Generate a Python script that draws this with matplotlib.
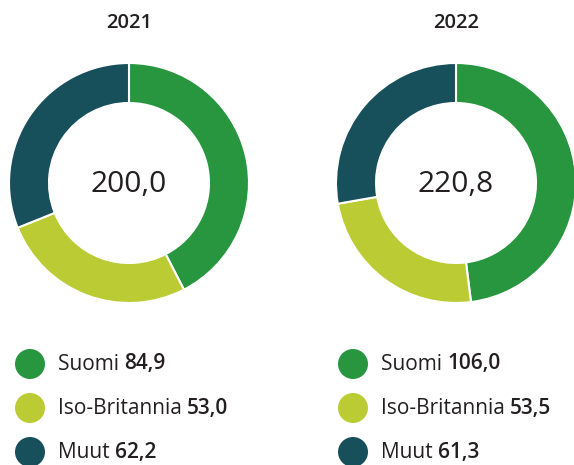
import matplotlib
matplotlib.use("Agg")
import matplotlib.pyplot as plt

plt.rcParams['font.family'] = ['Open Sans', 'DejaVu Sans']

years = ["2021", "2022"]
totals = ["200,0", "220,8"]
categories = ["Suomi", "Iso-Britannia", "Muut"]
values_2021 = [84.9, 53.0, 62.2]
values_2022 = [106.0, 53.5, 61.3]
series = [values_2021, values_2022]
colors = ["#27963F", "#BBCB33", "#174F5A"]
text_color = "#231F20"

W, H = 574, 465
fig = plt.figure(figsize=(W / 100, H / 100), dpi=100)
ax = fig.add_axes([0, 0, 1, 1])

centers_x = [129, 456]
center_y = H - 183
R = 120
ring = 40

for i, vals in enumerate(series):
    cx = centers_x[i]
    ax.pie(vals, colors=colors, startangle=90, counterclock=False,
           center=(cx, center_y), radius=R,
           wedgeprops=dict(width=ring, edgecolor="white", linewidth=1.5))
    ax.text(cx, H - 23, years[i], ha="center", va="center", fontsize=14.5,
            fontweight="semibold", color=text_color)
    ax.text(cx, center_y - 1, totals[i], ha="center", va="center", fontsize=21.5,
            color=text_color)

legend_x = [30, 353]
legend_y = [364, 408, 452]
fmt = lambda v: f"{v:.1f}".replace(".", ",")

for i, vals in enumerate(series):
    for j, cat in enumerate(categories):
        y = H - legend_y[j]
        circ = plt.Circle((legend_x[i], y), 15, color=colors[j], lw=0)
        ax.add_patch(circ)
        t = ax.text(legend_x[i] + 28, y, cat + " ", ha="left", va="center",
                    fontsize=15, color=text_color)
        ax.annotate(fmt(vals[j]), xy=(1, 0.5), xycoords=t, ha="left", va="center",
                    fontsize=15, fontweight="semibold", color=text_color)

ax.set_xlim(0, W)
ax.set_ylim(0, H)
ax.set_aspect("auto")
ax.axis("off")

fig.savefig("out.png", dpi=100, facecolor="white")
